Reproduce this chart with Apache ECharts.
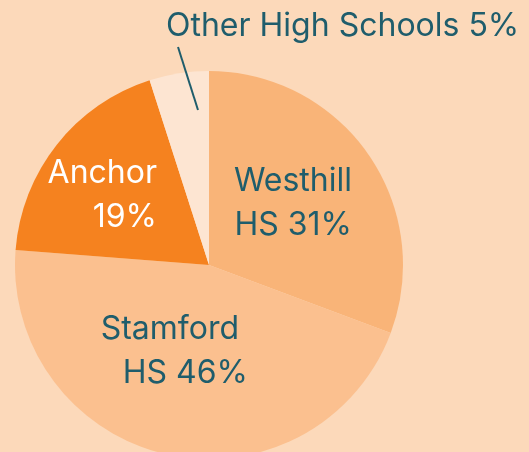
<!DOCTYPE html>
<html>
<head>
<meta charset="utf-8">
<script src="https://cdn.jsdelivr.net/npm/echarts@6/dist/echarts.min.js"></script>
<style>
  html,body{margin:0;padding:0;background:#fcd9ba;}
  #main{width:529px;height:452px;}
</style>
</head>
<body>
<div id="main"></div>
<script>
// data
var schools = ['Westhill HS', 'Stamford HS', 'Anchor', 'Other High Schools'];
var shares = [31, 46, 19, 5];
var sliceColors = ['#f9b478', '#fbc08f', '#f5821f', '#fde5d2'];

var chart = echarts.init(document.getElementById('main'));

// where each label sits (right edge / vertical middle)
var labelSpots = [
    {x: 352, y: 203, align: 'right'},
    {x: 248, y: 351, align: 'right'},
    {x: 157, y: 195, align: 'right'},
    {x: 166, y: 26, align: 'left'}
];

var labelTexts = ['Westhill\nHS 31%', 'Stamford \nHS 46%', 'Anchor\n19%', 'Other High Schools 5%'];

var pieData = [];
for (var i = 0; i < schools.length; i++) {
    pieData.push({
        name: schools[i],
        value: shares[i],
        itemStyle: {color: sliceColors[i]},
        label: {
            formatter: labelTexts[i],
            color: i == 2 ? '#ffffff' : '#1f5d6c'
        }
    });
}

var option = {
    backgroundColor: '#fcd9ba',
    animation: false,
    series: [{
        type: 'pie',
        center: [209, 265],
        radius: [0, 194],
        startAngle: 90,
        clockwise: true,
        data: pieData,
        label: {
            show: true,
            position: 'inside',
            fontFamily: 'Inter',
            fontSize: 32,
            lineHeight: 44
        },
        labelLine: {show: false},
        labelLayout: function (params) {
            var s = labelSpots[params.dataIndex];
            return {x: s.x, y: s.y, align: s.align, verticalAlign: 'middle'};
        },
        emphasis: {disabled: true}
    }],
    graphic: [{
        type: 'line',
        z: 100,
        shape: {x1: 178, y1: 47, x2: 198, y2: 110},
        style: {stroke: '#1f5d6c', lineWidth: 2}
    }]
};

chart.setOption(option);
</script>
</body>
</html>
